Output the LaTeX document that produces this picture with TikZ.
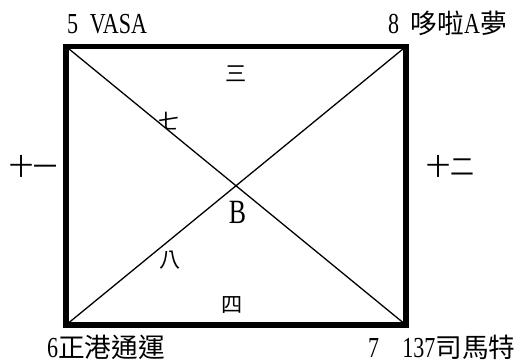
\documentclass[tikz,border=0pt]{standalone}
\usepackage{fontspec}
\setmainfont[FakeStretch=0.76,WordSpace=2.1]{Liberation Serif}
\newfontfamily\cjk[Scale=0.92]{Noto Sans CJK TC}
\usepackage{tikz}
\usetikzlibrary{positioning, calc}
\tikzset{
  frame/.style  ={line width=5.5pt, black},
  diag/.style   ={line width=1.3pt, black},
  corner/.style ={inner sep=0pt, anchor=base west, font=\fontsize{29}{31}\selectfont},
  region/.style ={inner sep=0pt, font=\fontsize{23}{25}\selectfont\cjk},
  side/.style   ={inner sep=0pt, font=\fontsize{26}{28}\selectfont\cjk},
  mid/.style    ={inner sep=0pt, font=\fontsize{34}{36}\selectfont}
}

\begin{document}
\begin{tikzpicture}[x=1pt, y=-1pt]
\useasboundingbox (0,0) rectangle (531,362);

% Corners of the plot
\coordinate (nw) at (66,46.5);
\coordinate (ne) at (406,46.5);
\coordinate (sw) at (66,325);
\coordinate (se) at (406,325);

% Outline and diagonals
\draw[diag] (nw) -- (se);
\draw[diag] (sw) -- (ne);
\draw[frame] (nw) rectangle (se);

% Corner labels
\node[corner] (lvasa)  at (67,33.5)  {5 VASA};
\node[corner] (ldora)  at (388,33.5) {8 {\cjk 哆啦}A{\cjk 夢}};
\node[corner] (lport)  at (47,357)   {6{\cjk 正港通運}};
\node[corner] (lsmart) at (368,357)  {7\ \ 137{\cjk 司馬特}};

% Side labels
\node[side] (lleft)  at (33.5,166)  {十一};
\node[side] (lright) at (450,166)   {十二};

% Regions
\node[region] (rtop)   at (236.5,73.5) {三};
\node[region] (rseven) at (169,121.5)  {七};
\node[region] (reight) at (170,260)    {八};
\node[region] (rbot)   at (232.5,305)  {四};

% Crossing point
\node[mid] (cb) at (237.5,212.5) {B};
\end{tikzpicture}
\end{document}
